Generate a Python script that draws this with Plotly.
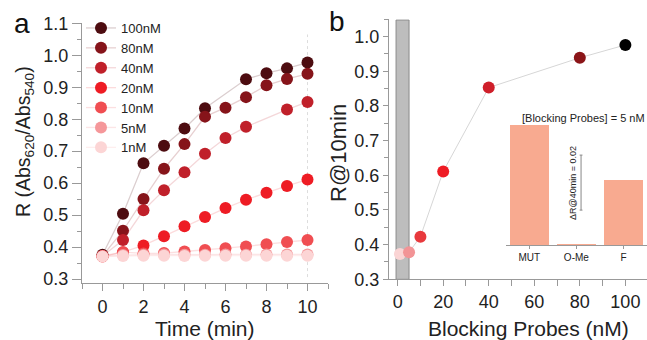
import plotly.graph_objects as go

# ---------------- data ----------------
time_min = [0, 1, 2, 3, 4, 5, 6, 7, 8, 9, 10]
labels_a = ["100nM", "80nM", "40nM", "20nM", "10nM", "5nM", "1nM"]
r_100 = [0.376, 0.504, 0.662, 0.717, 0.771, 0.834, None, 0.925, 0.944, 0.959, 0.977]
r_80 = [0.372, 0.451, 0.550, 0.645, 0.722, 0.808, 0.836, 0.869, 0.906, 0.926, 0.942]
r_40 = [0.372, 0.422, 0.515, 0.578, 0.634, 0.692, 0.741, 0.776, None, 0.830, 0.854]
r_20 = [0.372, 0.384, 0.405, 0.434, 0.465, 0.494, 0.522, 0.548, 0.570, 0.591, 0.611]
r_10 = [0.370, 0.384, 0.380, 0.381, 0.386, 0.391, 0.396, 0.402, 0.409, 0.416, 0.422]
r_5 = [0.372, 0.375, 0.376, 0.377, 0.376, 0.376, 0.377, 0.376, 0.377, 0.377, 0.377]
r_1 = [0.370, 0.372, 0.373, 0.373, 0.372, 0.373, 0.373, 0.373, 0.373, 0.373, 0.373]
series_a = [r_100, r_80, r_40, r_20, r_10, r_5, r_1]
colors_a = ["#4d0c10", "#86141a", "#c0202a", "#ee1c24", "#f04e52", "#f5979a", "#fcd5d5"]
lines_a = ["rgba(77,12,16,0.2)", "rgba(134,20,26,0.2)", "rgba(192,32,42,0.18)",
           "rgba(238,28,36,0.16)", "rgba(240,78,82,0.18)", "rgba(245,151,154,0.25)",
           "rgba(252,213,213,0.4)"]

conc_nM = [1, 5, 10, 20, 40, 80, 100]
r_at_10min = [0.373, 0.378, 0.423, 0.611, 0.853, 0.939, 0.976]
colors_b = ["#fad4d4", "#f29496", "#e8393d", "#ee1c24", "#cf1f2a", "#8b1518", "#000000"]

probes = ["MUT", "O-Me", "F"]
delta_r = [0.0437, 0.0007, 0.024]

W, H = 647, 340
FONT = "Arial, Liberation Sans, sans-serif"
TXT = "#222222"
AX = "#999999"

def px(x):
    return x / W

def py(y):
    return 1 - y / H

fig = go.Figure()

# panel a
for name, ys, c, lc in zip(labels_a, series_a, colors_a, lines_a):
    fig.add_trace(go.Scatter(
        x=time_min, y=ys, name=name, mode="lines+markers", connectgaps=True,
        line=dict(color=lc, width=1.3),
        marker=dict(color=c, size=12, line=dict(width=0)),
        xaxis="x", yaxis="y", showlegend=True))

# panel b
fig.add_trace(go.Scatter(
    x=conc_nM, y=r_at_10min, mode="lines+markers",
    line=dict(color="#d6d6d6", width=1),
    marker=dict(color=colors_b, size=12, line=dict(width=0)),
    xaxis="x2", yaxis="y2", showlegend=False))

# inset
fig.add_trace(go.Bar(
    x=[0, 1, 2], y=delta_r, width=0.82, marker=dict(color="#f8aa90", line=dict(width=0)),
    xaxis="x3", yaxis="y3", showlegend=False))

axis_common = dict(showline=True, linecolor=AX, linewidth=1, showgrid=False, zeroline=False,
                   automargin=False, ticks="outside", tickcolor=AX,
                   tickfont=dict(family=FONT, size=18, color=TXT))

fig.update_layout(
    width=W, height=H, autosize=False,
    margin=dict(l=0, r=0, t=0, b=0, autoexpand=False),
    paper_bgcolor="white", plot_bgcolor="white",
    font=dict(family=FONT, color=TXT),
    xaxis=dict(**axis_common, domain=[px(82), px(328)], range=[-1, 11],
               tickvals=[0, 2, 4, 6, 8, 10], ticklen=7,
               minor=dict(dtick=1, ticks="outside", ticklen=5, tickcolor=AX),
               anchor="y"),
    yaxis=dict(**axis_common, domain=[py(283), py(23.3)], range=[0.2875, 1.1],
               tickvals=[0.3, 0.4, 0.5, 0.6, 0.7, 0.8, 0.9, 1.0, 1.1], tickformat=".1f",
               ticklen=9, minor=dict(dtick=0.05, tick0=0.3, ticks="outside", ticklen=4, tickcolor=AX),
               anchor="x"),
    xaxis2=dict(**axis_common, domain=[px(389), 1.0], range=[-3.8, 109.5],
                tickvals=[0, 20, 40, 60, 80, 100], ticklen=6,
                minor=dict(dtick=10, ticks="outside", ticklen=6, tickcolor=AX),
                anchor="y2"),
    yaxis2=dict(**axis_common, domain=[py(279.3), py(19.3)], range=[0.3, 1.05],
                tickvals=[0.3, 0.4, 0.5, 0.6, 0.7, 0.8, 0.9, 1.0], tickformat=".1f",
                ticklen=5, minor=dict(dtick=0.05, tick0=0.3, ticks="outside", ticklen=4, tickcolor=AX),
                anchor="x2"),
    xaxis3=dict(showline=True, linecolor=AX, linewidth=1, showgrid=False, zeroline=False,
                automargin=False, domain=[px(505.7), 1.0], range=[-0.5, 2.5],
                tickvals=[0, 1, 2], ticktext=probes, ticks="outside", ticklen=3, tickcolor=AX,
                tickfont=dict(family=FONT, size=10, color=TXT), anchor="y3"),
    yaxis3=dict(visible=False, automargin=False, domain=[py(245.3), py(107.8)], range=[0, 0.05],
                anchor="x3"),
    legend=dict(x=px(81), y=py(13), xanchor="left", yanchor="top",
                bgcolor="rgba(0,0,0,0)", borderwidth=0,
                font=dict(family=FONT, size=13, color=TXT)),
    bargap=0,
)

shapes = [
    # highlighted low-concentration region in panel b
    dict(type="rect", xref="x2", yref="y2", x0=-0.7, x1=5, y0=0.3, y1=1.048,
         fillcolor="#bdbdbd", line=dict(color="#8a8a8a", width=1), layer="below"),
    # faint dotted marker line at t = 10 in panel a
    dict(type="line", xref="x", yref="y", x0=10, x1=10, y0=0.306, y1=1.065,
         line=dict(color="#dddddd", width=1, dash="dot"), layer="below"),
    # scale bar in the inset
    dict(type="line", xref="x3", yref="y3", x0=1.1, x1=1.1, y0=0.0128, y1=0.0328,
         line=dict(color="#888888", width=1)),
    dict(type="line", xref="x3", yref="y3", x0=1.07, x1=1.13, y0=0.0128, y1=0.0128,
         line=dict(color="#888888", width=1)),
    dict(type="line", xref="x3", yref="y3", x0=1.07, x1=1.13, y0=0.0328, y1=0.0328,
         line=dict(color="#888888", width=1)),
]
fig.update_layout(shapes=shapes)

def ann(text, x, y, size, angle=0, color=TXT):
    return dict(text=text, x=px(x), y=py(y), xref="paper", yref="paper",
                xanchor="center", yanchor="middle", showarrow=False, textangle=angle,
                font=dict(family=FONT, size=size, color=color))

fig.update_layout(annotations=[
    ann("a", 22, 24, 28, color="#111111"),
    ann("b", 337, 22, 28, color="#111111"),
    ann("Time (min)", 205, 328, 21),
    ann("R (Abs<sub>620</sub>/Abs<sub>540</sub>)", 24, 142, 19.5, angle=-90),
    ann("Blocking Probes (nM)", 528, 328, 21),
    ann("R@10min", 339, 153, 22, angle=-90),
    ann("[Blocking Probes] = 5 nM", 583, 118, 11),
    ann("ΔR@40min = 0.02", 573, 183, 9, angle=-90),
])

fig.write_html("out.html")
